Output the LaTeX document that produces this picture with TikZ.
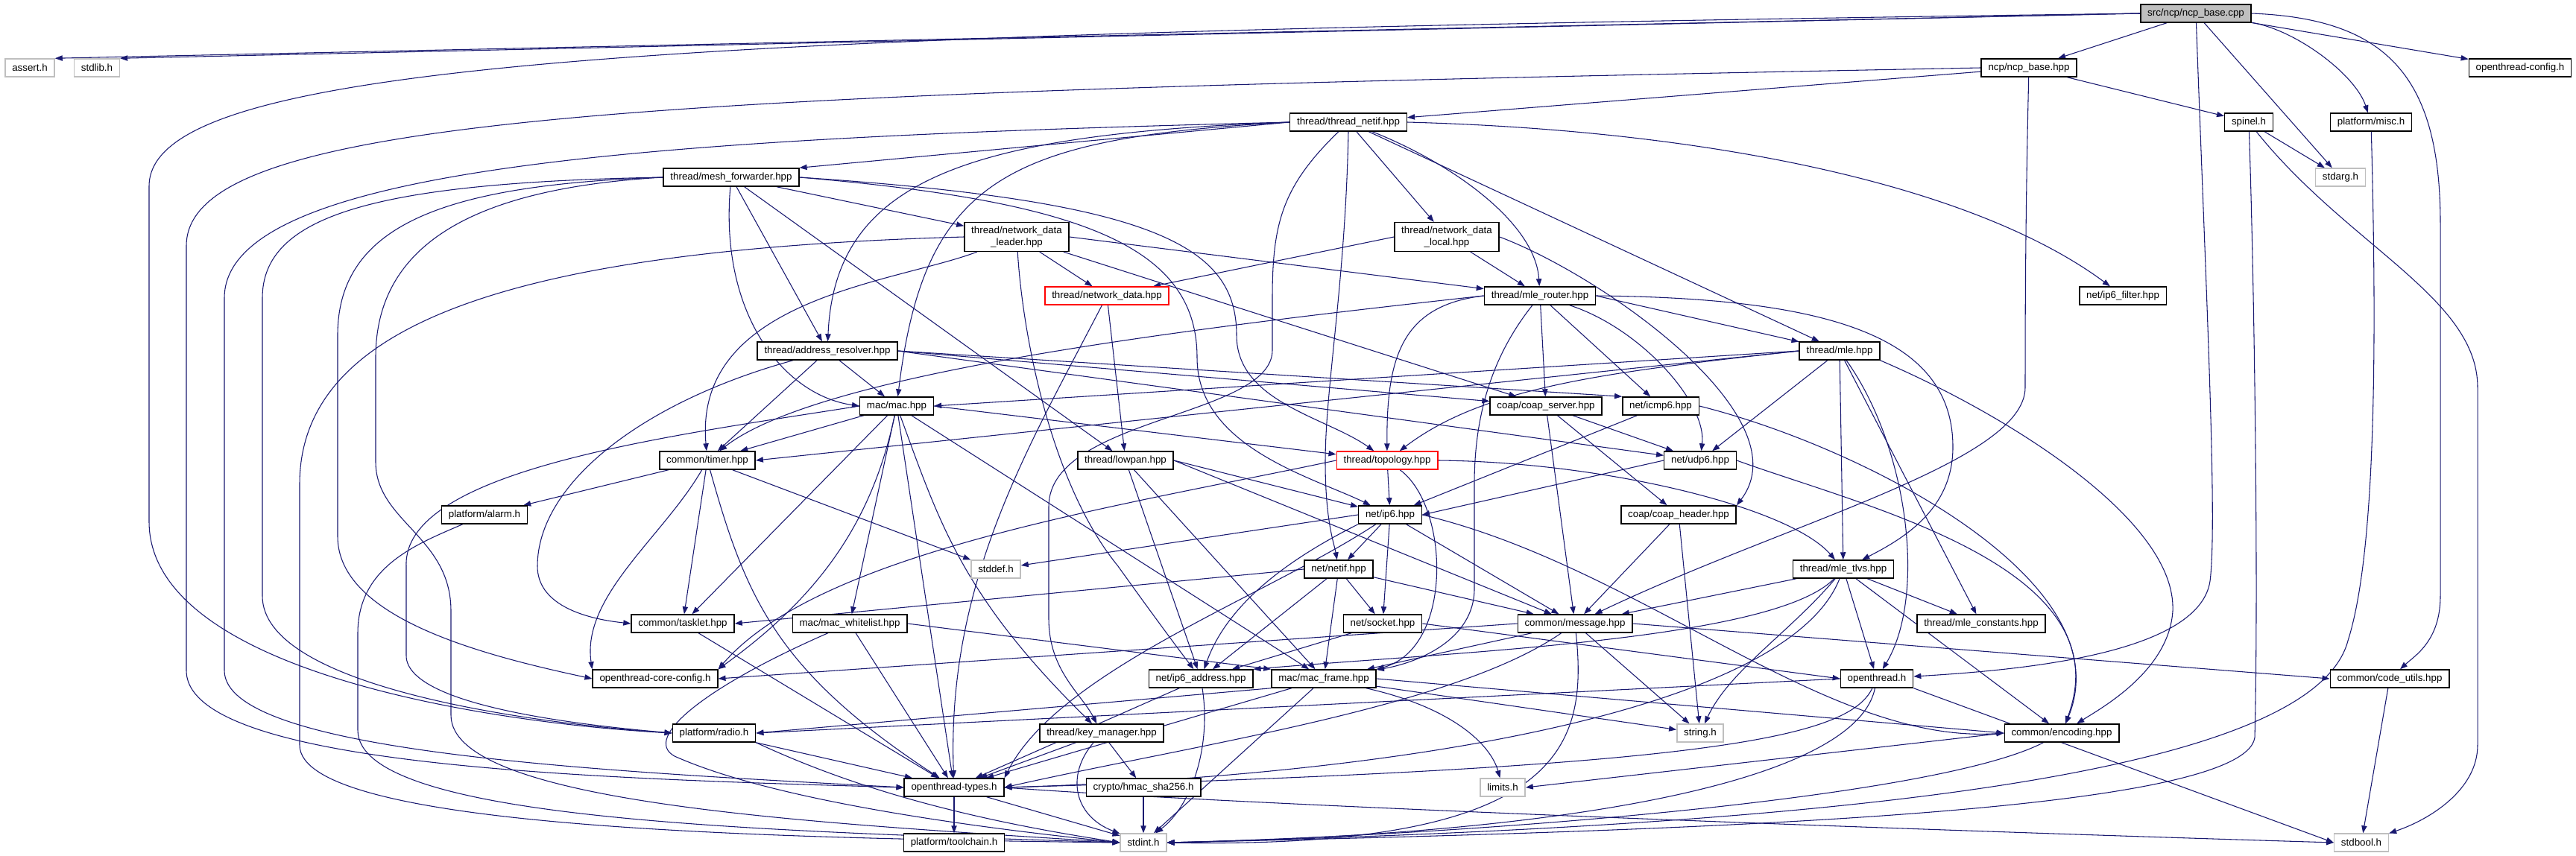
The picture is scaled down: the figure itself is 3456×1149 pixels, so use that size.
\documentclass[tikz,border=0pt]{standalone}
\usepackage{fontspec}
\setmainfont{Liberation Sans}
\usepackage{tikz}
\usetikzlibrary{arrows.meta,backgrounds}
\definecolor{edgeblue}{HTML}{191970}
\definecolor{leafgray}{HTML}{BFBFBF}
\definecolor{rootgray}{HTML}{BFBFBF}
\tikzset{
    hdr/.style={draw=black,fill=white,line width=1.1pt,minimum height=18pt,
      inner xsep=7pt,inner ysep=2pt,font=\fontsize{10}{12}\selectfont,align=center},
    syshdr/.style={hdr,draw=leafgray},
    cuthdr/.style={hdr,draw=red},
    roothdr/.style={hdr,fill=rootgray},
    incl/.style={-{Triangle[length=7.5pt,width=5.5pt]},draw=edgeblue,line width=0.8pt}
}
\begin{document}
\begin{tikzpicture}[x=0.75pt,y=-0.75pt]
  \useasboundingbox (0,0) rectangle (3456,1149);
  \node[roothdr] (cpp) at (2946,18) {src/ncp/ncp\_base.cpp};
  \node[syshdr] (assert) at (40,91) {assert.h};
  \node[syshdr] (stdlib) at (130,91) {stdlib.h};
  \node[hdr] (ncpbase) at (2722,91) {ncp/ncp\_base.hpp};
  \node[hdr] (otconfig) at (3381,91) {openthread-config.h};
  \node[hdr] (netifthr) at (1809,164) {thread/thread\_netif.hpp};
  \node[hdr] (spinel) at (3017,164) {spinel.h};
  \node[hdr] (misc) at (3181,164) {platform/misc.h};
  \node[hdr] (meshfwd) at (981,238) {thread/mesh\_forwarder.hpp};
  \node[syshdr] (stdarg) at (3140,238) {stdarg.h};
  \node[hdr,minimum height=29pt] (ndleader) at (1364,318) {thread/network\_data\\\_leader.hpp};
  \node[hdr,minimum height=29pt] (ndlocal) at (1941,318) {thread/network\_data\\\_local.hpp};
  \node[cuthdr] (netdata) at (1485,397) {thread/network\_data.hpp};
  \node[hdr] (mlerouter) at (2066,397) {thread/mle\_router.hpp};
  \node[hdr] (ipfilter) at (2848,397) {net/ip6\_filter.hpp};
  \node[hdr] (addrres) at (1110,471) {thread/address\_resolver.hpp};
  \node[hdr] (mle) at (2468,471) {thread/mle.hpp};
  \node[hdr] (mac) at (1203,545) {mac/mac.hpp};
  \node[hdr] (coapsrv) at (2074,545) {coap/coap\_server.hpp};
  \node[hdr] (icmp) at (2228,545) {net/icmp6.hpp};
  \node[hdr] (timer) at (949,618) {common/timer.hpp};
  \node[hdr] (lowpan) at (1510,618) {thread/lowpan.hpp};
  \node[cuthdr] (topology) at (1861,618) {thread/topology.hpp};
  \node[hdr] (udp) at (2281,618) {net/udp6.hpp};
  \node[hdr] (alarm) at (650,691) {platform/alarm.h};
  \node[hdr] (ipsix) at (1865,691) {net/ip6.hpp};
  \node[hdr] (coaphdr) at (2252,691) {coap/coap\_header.hpp};
  \node[syshdr] (stddef) at (1336,764) {stddef.h};
  \node[hdr] (netif) at (1796,764) {net/netif.hpp};
  \node[hdr] (mletlvs) at (2473,764) {thread/mle\_tlvs.hpp};
  \node[hdr] (tasklet) at (916,837) {common/tasklet.hpp};
  \node[hdr] (whitelist) at (1140,837) {mac/mac\_whitelist.hpp};
  \node[hdr] (socket) at (1855,837) {net/socket.hpp};
  \node[hdr] (message) at (2113,837) {common/message.hpp};
  \node[hdr] (mleconst) at (2658,837) {thread/mle\_constants.hpp};
  \node[hdr] (coreconfig) at (879,911) {openthread-core-config.h};
  \node[hdr] (ipaddr) at (1611,911) {net/ip6\_address.hpp};
  \node[hdr] (macframe) at (1776,911) {mac/mac\_frame.hpp};
  \node[hdr] (openthread) at (2518,911) {openthread.h};
  \node[hdr] (codeutils) at (3206,911) {common/code\_utils.hpp};
  \node[hdr] (radio) at (958,984) {platform/radio.h};
  \node[hdr] (keymgr) at (1478,984) {thread/key\_manager.hpp};
  \node[syshdr] (string) at (2281,984) {string.h};
  \node[hdr] (encoding) at (2766,984) {common/encoding.hpp};
  \node[hdr] (ottypes) at (1280,1057) {openthread-types.h};
  \node[hdr] (hmac) at (1534,1057) {crypto/hmac\_sha256.h};
  \node[syshdr] (limits) at (2016,1057) {limits.h};
  \node[hdr] (toolchain) at (1280,1131) {platform/toolchain.h};
  \node[syshdr] (stdint) at (1534,1131) {stdint.h};
  \node[syshdr] (stdbool) at (3168,1131) {stdbool.h};
  \begin{scope}[on background layer]
  \draw[incl] (cpp.west) -- (assert.north east);
  \draw[incl] (cpp.west) -- (stdlib.north east);
  \draw[incl] (cpp.west) .. controls (900,45) and (200,80) .. (200,250) -- (200,700) .. controls (200,900) and (650,970) .. (radio.west);
  \draw[incl] (cpp) -- (ncpbase);
  \draw[incl] (cpp) -- (otconfig);
  \draw[incl] (cpp) -- (stdarg);
  \draw[incl] (cpp) .. controls (3080,40) and (3160,100) .. (misc);
  \draw[incl] (cpp.east) .. controls (3200,25) and (3274,100) .. (3274,300) -- (3274,800) .. controls (3274,860) and (3240,880) .. (codeutils);
  \draw[incl] (cpp) .. controls (2960,400) and (2975,700) .. (2965,780) .. controls (2950,880) and (2700,900) .. (openthread);
  \draw[incl] (ncpbase) -- (netifthr);
  \draw[incl] (ncpbase) -- (spinel);
  \draw[incl] (ncpbase) .. controls (2717,300) and (2717,450) .. (2717,520) .. controls (2717,620) and (2400,700) .. (message);
  \draw[incl] (ncpbase.west) .. controls (900,125) and (250,150) .. (250,330) -- (250,900) .. controls (250,1030) and (800,1045) .. (ottypes.west);
  \draw[incl] (spinel) -- (stdarg);
  \draw[incl] (spinel) .. controls (3025,400) and (3030,800) .. (3025,990) .. controls (3010,1090) and (2300,1115) .. (stdint.east);
  \draw[incl] (spinel) .. controls (3150,330) and (3324,400) .. (3324,520) -- (3324,1000) .. controls (3324,1060) and (3260,1100) .. (stdbool);
  \draw[incl] (misc) .. controls (3190,500) and (3185,750) .. (3150,860) .. controls (3100,1050) and (2400,1110) .. (stdint.east);
  \draw[incl] (netifthr.west) -- (meshfwd.north east);
  \draw[incl] (netifthr.west) .. controls (1350,185) and (1240,240) .. (mac);
  \draw[incl] (netifthr.west) .. controls (1300,180) and (1120,240) .. (addrres);
  \draw[incl] (netifthr) -- (ndlocal);
  \draw[incl] (netifthr) .. controls (1950,220) and (2060,300) .. (mlerouter);
  \draw[incl] (netifthr) -- (mle);
  \draw[incl] (netifthr.east) .. controls (2300,175) and (2650,250) .. (ipfilter);
  \draw[incl] (netifthr.south) .. controls (1805,380) and (1778,520) .. (1778,620) .. controls (1778,700) and (1790,730) .. (netif);
  \draw[incl] (netifthr) .. controls (1720,250) and (1707,300) .. (1707,400) -- (1707,470) .. controls (1707,560) and (1407,560) .. (1407,680) -- (1407,830) .. controls (1407,900) and (1450,930) .. (keymgr);
  \draw[incl] (netifthr.west) .. controls (900,185) and (301,220) .. (301,400) -- (301,900) .. controls (301,1010) and (800,1035) .. (ottypes.west);
  \draw[incl] (meshfwd) -- (ndleader);
  \draw[incl] (meshfwd) -- (addrres);
  \draw[incl] (meshfwd) -- (lowpan);
  \draw[incl] (meshfwd) .. controls (965,420) and (1050,530) .. (mac.west);
  \draw[incl] (meshfwd.east) .. controls (1550,270) and (1659,330) .. (1659,450) .. controls (1659,540) and (1780,560) .. (topology);
  \draw[incl] (meshfwd.east) .. controls (1450,270) and (1606,330) .. (1606,480) .. controls (1606,600) and (1760,640) .. (ipsix);
  \draw[incl] (meshfwd.west) .. controls (500,245) and (352,290) .. (352,400) -- (352,800) .. controls (352,920) and (700,970) .. (radio.west);
  \draw[incl] (meshfwd.west) .. controls (600,248) and (453,300) .. (453,450) -- (453,720) .. controls (453,830) and (650,880) .. (coreconfig.west);
  \draw[incl] (meshfwd.west) .. controls (650,252) and (504,320) .. (504,480) -- (504,620) .. controls (504,700) and (605,720) .. (605,820) -- (605,960) .. controls (605,1080) and (1100,1105) .. (stdint.west);
  \draw[incl] (ndleader) -- (netdata);
  \draw[incl] (ndleader.east) -- (mlerouter);
  \draw[incl] (ndleader) .. controls (1200,380) and (930,400) .. (timer);
  \draw[incl] (ndleader) -- (coapsrv);
  \draw[incl] (ndleader) .. controls (1372,450) and (1410,650) .. (1500,760) .. controls (1550,830) and (1580,870) .. (ipaddr);
  \draw[incl] (ndleader.west) .. controls (700,335) and (402,430) .. (402,650) -- (402,1000) .. controls (402,1110) and (1000,1125) .. (stdint.west);
  \draw[incl] (ndlocal.west) -- (netdata);
  \draw[incl] (ndlocal) -- (mlerouter);
  \draw[incl] (ndlocal.east) .. controls (2150,370) and (2420,560) .. (coaphdr.north east);
  \draw[incl] (netdata) -- (lowpan);
  \draw[incl] (netdata) .. controls (1380,600) and (1270,780) .. (ottypes);
  \draw[incl] (mlerouter.east) -- (mle);
  \draw[incl] (mlerouter) -- (coapsrv);
  \draw[incl] (mlerouter) -- (icmp);
  \draw[incl] (mlerouter) .. controls (2200,440) and (2290,540) .. (udp);
  \draw[incl] (mlerouter.west) .. controls (1880,410) and (1860,480) .. (topology);
  \draw[incl] (mlerouter.west) .. controls (1600,440) and (1100,500) .. (timer);
  \draw[incl] (mlerouter) .. controls (2000,480) and (1978,560) .. (1978,650) -- (1978,790) .. controls (1978,860) and (1900,890) .. (macframe);
  \draw[incl] (mlerouter.east) .. controls (2450,400) and (2620,450) .. (2620,600) .. controls (2620,680) and (2560,720) .. (mletlvs);
  \draw[incl] (mle.west) -- (mac.east);
  \draw[incl] (mle.west) -- (timer.east);
  \draw[incl] (mle.west) .. controls (2150,500) and (1990,520) .. (topology);
  \draw[incl] (mle) -- (udp);
  \draw[incl] (mle) -- (mletlvs);
  \draw[incl] (mle) -- (mleconst);
  \draw[incl] (mle.south east) .. controls (2700,560) and (2920,700) .. (2915,820) .. controls (2910,900) and (2820,950) .. (encoding);
  \draw[incl] (mle) .. controls (2560,600) and (2585,800) .. (openthread);
  \draw[incl] (addrres) -- (mac);
  \draw[incl] (addrres) -- (timer);
  \draw[incl] (addrres.east) -- (coapsrv);
  \draw[incl] (addrres.east) -- (icmp.north west);
  \draw[incl] (addrres.east) -- (udp);
  \draw[incl] (addrres) .. controls (860,540) and (721,650) .. (721,760) .. controls (721,810) and (780,830) .. (tasklet.west);
  \draw[incl] (mac) -- (timer);
  \draw[incl] (mac) -- (tasklet);
  \draw[incl] (mac) -- (whitelist);
  \draw[incl] (mac) .. controls (1260,700) and (1290,800) .. (keymgr);
  \draw[incl] (mac) -- (macframe);
  \draw[incl] (mac.east) -- (topology);
  \draw[incl] (mac) .. controls (1170,700) and (1100,800) .. (coreconfig.north east);
  \draw[incl] (mac) -- (ottypes);
  \draw[incl] (mac.west) .. controls (900,585) and (540,630) .. (545,760) -- (545,880) .. controls (545,950) and (800,975) .. (radio.west);
  \draw[incl] (coapsrv) -- (udp);
  \draw[incl] (coapsrv) -- (coaphdr);
  \draw[incl] (coapsrv) -- (message);
  \draw[incl] (icmp) -- (ipsix);
  \draw[incl] (icmp.east) .. controls (2500,600) and (2850,780) .. (encoding);
  \draw[incl] (timer) -- (alarm);
  \draw[incl] (timer) -- (tasklet);
  \draw[incl] (timer) -- (stddef);
  \draw[incl] (timer) .. controls (1000,800) and (1040,900) .. (ottypes);
  \draw[incl] (timer) .. controls (890,720) and (780,800) .. (coreconfig.north west);
  \draw[incl] (alarm) .. controls (560,730) and (480,760) .. (480,850) -- (480,980) .. controls (480,1100) and (1000,1115) .. (stdint.west);
  \draw[incl] (lowpan.east) -- (ipsix);
  \draw[incl] (lowpan.east) -- (message);
  \draw[incl] (lowpan) -- (macframe);
  \draw[incl] (lowpan) -- (ipaddr);
  \draw[incl] (topology) -- (ipsix);
  \draw[incl] (topology.east) .. controls (2150,620) and (2400,680) .. (mletlvs);
  \draw[incl] (topology) .. controls (1945,680) and (1950,870) .. (macframe.north east);
  \draw[incl] (topology.west) .. controls (1500,680) and (1100,740) .. (coreconfig.north east);
  \draw[incl] (udp.west) -- (ipsix.east);
  \draw[incl] (udp.east) .. controls (2500,680) and (2850,760) .. (encoding);
  \draw[incl] (ipsix) -- (netif);
  \draw[incl] (ipsix) -- (socket);
  \draw[incl] (ipsix) -- (message);
  \draw[incl] (ipsix.south west) .. controls (1750,740) and (1650,800) .. (ipaddr);
  \draw[incl] (ipsix.west) -- (stddef);
  \draw[incl] (ipsix) .. controls (1700,800) and (1420,900) .. (ottypes.north east);
  \draw[incl] (ipsix.east) .. controls (2200,760) and (2450,1000) .. (encoding.west);
  \draw[incl] (coaphdr) -- (message);
  \draw[incl] (coaphdr) -- (string);
  \draw[incl] (netif) -- (socket);
  \draw[incl] (netif) -- (message);
  \draw[incl] (netif) -- (macframe);
  \draw[incl] (netif.west) -- (tasklet.east);
  \draw[incl] (netif) -- (ipaddr);
  \draw[incl] (mletlvs) -- (message);
  \draw[incl] (mletlvs) -- (mleconst);
  \draw[incl] (mletlvs) .. controls (2400,850) and (2320,900) .. (string);
  \draw[incl] (mletlvs) .. controls (2380,860) and (1950,875) .. (ipaddr.north east);
  \draw[incl] (mletlvs) .. controls (2400,950) and (1900,1040) .. (ottypes.east);
  \draw[incl] (mletlvs) -- (encoding);
  \draw[incl] (mletlvs) -- (openthread);
  \draw[incl] (tasklet) -- (ottypes);
  \draw[incl] (whitelist) -- (ottypes);
  \draw[incl] (whitelist.east) -- (macframe.north west);
  \draw[incl] (whitelist) .. controls (950,920) and (860,990) .. (905,1015) .. controls (1050,1080) and (1350,1115) .. (stdint.west);
  \draw[incl] (socket) -- (ipaddr);
  \draw[incl] (socket.east) -- (openthread.west);
  \draw[incl] (message) -- (macframe);
  \draw[incl] (message) -- (string);
  \draw[incl] (message.east) -- (codeutils.west);
  \draw[incl] (message) .. controls (1950,950) and (1600,1000) .. (ottypes.east);
  \draw[incl] (message) .. controls (2130,1000) and (2100,1140) .. (stdint.east);
  \draw[incl] (message.west) -- (coreconfig.east);
  \draw[incl] (ipaddr) -- (ottypes);
  \draw[incl] (ipaddr) .. controls (1625,1000) and (1600,1080) .. (stdint);
  \draw[incl] (macframe.south west) -- (radio.east);
  \draw[incl] (macframe) -- (string);
  \draw[incl] (macframe) .. controls (1950,950) and (2000,1000) .. (limits);
  \draw[incl] (macframe.east) -- (encoding.west);
  \draw[incl] (macframe) -- (ottypes);
  \draw[incl] (macframe) -- (stdint);
  \draw[incl] (openthread.west) -- (radio.east);
  \draw[incl] (openthread) .. controls (2480,990) and (2300,1030) .. (ottypes.east);
  \draw[incl] (openthread) .. controls (2490,1050) and (2100,1120) .. (stdint.east);
  \draw[incl] (openthread.south east) -- (stdbool.west);
  \draw[incl] (codeutils) -- (stdbool);
  \draw[incl] (radio) -- (ottypes);
  \draw[incl] (radio.south east) .. controls (1150,1060) and (1300,1100) .. (stdint.west);
  \draw[incl] (keymgr) -- (ottypes);
  \draw[incl] (keymgr) -- (hmac);
  \draw[incl] (keymgr) .. controls (1430,1040) and (1440,1095) .. (stdint);
  \draw[incl] (hmac) -- (stdint);
  \draw[incl] (encoding) .. controls (2600,1070) and (2000,1120) .. (stdint.east);
  \draw[incl] (encoding.west) -- (limits.east);
  \draw[incl] (ottypes) -- (toolchain);
  \draw[incl] (ottypes) -- (stdint);
  \draw[incl] (ottypes.east) .. controls (1700,1083) and (2600,1115) .. (stdbool.west);
  \end{scope}
\end{tikzpicture}
\end{document}
